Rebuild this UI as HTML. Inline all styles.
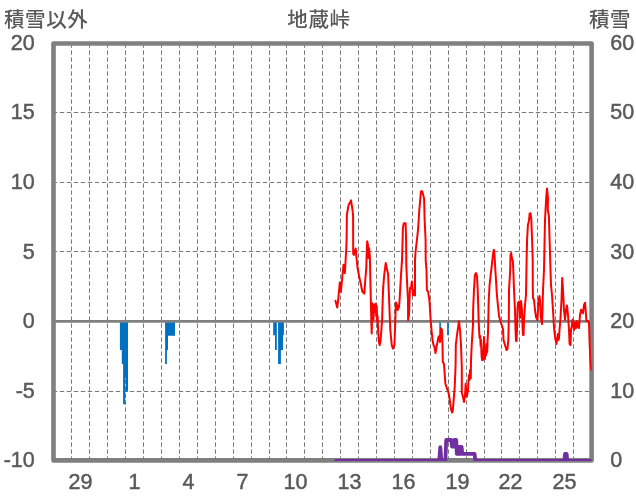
<!DOCTYPE html>
<html><head><meta charset="utf-8"><title>地蔵峠</title>
<style>html,body{margin:0;padding:0;background:#fff;}svg{display:block;}</style>
</head><body>
<svg width="636" height="501" viewBox="0 0 636 501">
<defs><clipPath id="pc"><rect x="53.50" y="43.45" width="538.10" height="417.45"/></clipPath></defs>
<rect width="636" height="501" fill="#fff"/>
<path d="M71.50 43.4V460.4M89.50 43.4V460.4M107.50 43.4V460.4M125.50 43.4V460.4M143.50 43.4V460.4M161.50 43.4V460.4M179.50 43.4V460.4M197.50 43.4V460.4M215.50 43.4V460.4M233.50 43.4V460.4M251.50 43.4V460.4M269.50 43.4V460.4M286.50 43.4V460.4M304.50 43.4V460.4M322.50 43.4V460.4M340.50 43.4V460.4M358.50 43.4V460.4M376.50 43.4V460.4M394.50 43.4V460.4M412.50 43.4V460.4M430.50 43.4V460.4M448.50 43.4V460.4M466.50 43.4V460.4M484.50 43.4V460.4M501.50 43.4V460.4M519.50 43.4V460.4M537.50 43.4V460.4M555.50 43.4V460.4M573.50 43.4V460.4" stroke="#787878" stroke-width="1" stroke-dasharray="4.4 2.6" fill="none"/>
<path d="M52.8 112.50H591.6M52.8 182.50H591.6M52.8 251.50H591.6M52.8 391.50H591.6" stroke="#787878" stroke-width="1" stroke-dasharray="4.4 2.6" fill="none"/>
<path fill="#0070C0" d="M119.90 321.40L119.90 349.96L121.80 349.96L121.80 363.89L123.10 363.89L123.10 404.28L125.20 404.28L125.20 378.10L125.80 378.10L125.80 391.75L128.00 391.75L128.00 321.40ZM165.10 321.40L165.10 363.89L166.90 363.89L166.90 349.96L168.00 349.96L168.00 335.75L175.00 335.75L175.00 321.40ZM273.20 321.40L273.20 335.33L275.00 335.33L275.00 349.96L276.80 349.96L276.80 321.40ZM278.10 321.40L278.10 363.89L280.90 363.89L280.90 349.96L283.00 349.96L283.00 335.33L283.90 335.33L283.90 321.40ZM439.30 321.40L439.30 335.33L440.90 335.33L440.90 321.40ZM447.10 321.40L447.10 335.33L448.80 335.33L448.80 321.40Z"/>
<path d="M53.5 321.40H591.6" stroke="#808080" stroke-width="2.75"/>
<rect x="53.50" y="43.45" width="538.10" height="416.95" fill="none" stroke="#808080" stroke-width="4.6" stroke-linejoin="round"/>
<g clip-path="url(#pc)" fill="none" stroke-linejoin="round" stroke-linecap="round">
<polyline points="335.5,300.8 337.2,307.6 338.2,300.0 339.8,282.5 340.9,292.0 342.5,275.0 343.5,264.8 344.9,273.0 345.5,262.0 346.2,250.0 346.6,240.0 346.9,214.5 348.6,205.0 351.0,200.4 352.5,209.8 353.1,215.7 353.2,254.0 353.9,255.0 355.7,248.4 356.5,258.0 357.5,267.5 359.3,277.1 360.9,284.3 362.3,291.5 364.3,293.6 365.3,279.5 366.3,268.0 366.8,250.0 367.2,241.2 368.0,245.0 368.5,258.0 369.0,248.0 369.8,255.0 370.6,290.0 371.3,320.0 371.7,333.5 372.4,303.2 373.4,320.0 374.3,304.5 375.0,312.0 375.6,303.8 376.2,316.0 376.7,306.0 377.2,322.0 377.6,316.0 378.2,332.0 378.8,341.0 379.7,345.2 380.6,340.0 381.5,328.0 382.1,320.0 382.7,300.0 383.2,287.0 384.2,275.0 385.7,263.0 386.7,268.0 388.1,274.1 389.1,300.0 390.3,330.0 391.8,345.3 393.0,348.7 394.4,345.0 395.0,330.0 395.5,315.0 395.9,302.5 397.0,305.0 397.8,310.0 399.0,307.0 399.6,300.0 401.0,275.0 402.0,260.4 402.6,240.0 402.9,227.9 403.8,223.2 405.6,223.2 406.1,240.0 406.3,265.1 407.2,285.0 408.0,300.0 408.1,320.0 409.0,315.0 409.5,300.0 410.0,288.0 411.0,288.0 411.9,281.5 413.0,295.5 414.0,290.0 415.0,295.5 415.0,260.4 415.5,252.0 416.9,240.0 418.1,229.1 419.3,210.0 420.2,200.4 420.9,191.6 421.6,191.0 422.3,191.6 424.1,198.6 424.6,219.5 425.6,240.0 425.7,260.4 426.5,270.0 426.9,290.3 428.1,291.5 429.5,301.0 430.5,318.0 431.5,330.0 432.5,340.0 433.5,345.0 434.5,347.0 435.5,353.0 436.5,347.0 437.5,342.0 438.5,337.0 439.2,336.0 440.0,342.0 441.0,328.3 442.0,330.0 442.5,345.0 442.8,362.0 444.0,364.0 444.8,376.0 445.4,383.7 446.5,387.0 447.6,390.2 448.7,393.5 449.8,400.1 450.9,408.9 452.0,412.5 452.7,411.5 453.6,401.2 454.7,387.0 455.6,365.0 455.8,345.0 457.0,335.0 459.0,321.2 460.0,330.0 461.0,345.0 461.8,367.0 461.8,392.4 463.0,397.0 464.0,402.0 465.0,395.0 465.7,383.7 466.5,395.0 466.8,396.8 468.0,390.0 468.4,382.6 469.0,375.0 469.5,380.0 470.0,370.0 470.8,378.2 471.0,360.0 472.0,340.0 473.0,325.0 473.1,310.0 474.0,289.9 474.9,274.9 476.0,273.0 477.0,276.0 477.7,289.9 478.3,309.4 478.7,322.0 479.3,334.0 479.6,338.0 480.2,336.0 480.6,346.0 481.0,340.0 481.5,355.0 482.0,360.0 482.6,352.0 483.0,360.0 483.5,348.0 484.0,337.0 484.6,350.0 485.0,359.0 485.6,348.0 486.2,355.0 486.6,344.0 487.2,352.0 487.6,340.0 488.0,333.0 488.3,320.0 488.7,300.3 489.6,284.7 491.3,269.7 492.6,258.0 493.5,251.0 494.0,249.8 494.6,256.0 495.2,268.0 496.0,280.0 496.8,293.8 498.0,306.0 499.0,316.0 500.5,321.5 502.0,326.0 503.0,329.0 503.5,340.0 505.0,345.0 506.5,350.0 507.5,349.0 508.3,340.0 508.8,320.0 509.0,290.0 510.2,270.4 510.5,255.0 511.1,253.0 512.0,258.4 512.9,261.4 513.5,275.0 514.0,289.5 515.0,310.0 515.5,330.0 516.0,341.0 516.6,341.0 517.0,330.0 517.5,310.0 518.0,303.0 519.0,301.5 519.5,305.0 520.0,318.0 520.5,310.0 521.0,301.0 522.0,310.0 522.5,325.0 523.0,335.0 523.6,335.0 524.0,320.0 525.0,305.0 526.0,295.0 526.6,260.0 527.1,239.5 527.9,225.1 528.9,221.0 529.7,213.4 530.5,213.2 531.3,219.2 531.7,230.0 532.3,245.5 532.7,260.0 532.8,290.0 533.0,298.0 534.0,300.0 535.0,310.0 536.0,317.0 537.5,320.0 538.5,300.0 539.5,296.0 540.0,300.0 541.0,318.0 542.0,324.0 542.5,310.0 543.0,290.0 544.0,270.0 544.6,240.0 545.0,220.0 546.2,198.0 547.0,188.4 548.0,198.0 547.8,210.0 548.9,216.0 549.6,240.0 550.5,270.0 551.0,285.0 552.0,295.0 553.0,310.0 554.0,328.0 555.2,338.0 556.4,344.0 557.0,340.0 557.9,334.0 558.5,340.0 559.0,338.0 559.5,330.0 560.5,318.0 561.5,300.0 562.2,278.0 563.0,290.0 564.0,310.0 565.0,320.0 566.0,310.0 567.0,305.5 568.0,315.0 569.0,330.0 569.6,344.0 570.5,345.0 571.0,330.0 571.6,327.0 572.7,319.5 573.5,326.0 574.2,330.0 575.1,322.3 576.0,328.0 577.0,321.0 578.0,327.0 579.0,328.0 580.0,315.0 581.1,309.7 582.0,312.0 583.0,313.2 584.0,305.0 585.1,302.7 586.0,315.0 586.4,320.9 588.1,320.9 589.0,323.0 589.5,340.0 590.3,359.5 591.2,369.8" stroke="#FF0000" stroke-width="2.0"/>
<polyline points="336.0,460.9 439.2,460.9 440.3,447.2 441.4,460.9 445.4,460.9 446.2,440.0 451.2,440.0 452.0,446.6 453.5,446.6 454.3,440.0 456.2,440.0 456.8,453.9 457.5,447.0 458.3,453.9 459.0,447.0 459.8,453.9 460.5,447.0 461.2,453.9 461.6,447.0 462.3,453.9 474.6,453.9 475.4,460.9 564.3,460.9 565.0,454.0 566.6,454.0 567.3,460.9 594.6,460.9" stroke="#7030A0" stroke-width="3.8"/>
</g>
<g fill="#595959" style="font-family:'Liberation Sans','Noto Sans CJK JP',sans-serif">
<text x="4.0" y="27" font-size="20.5" font-weight="500" letter-spacing="0.6">積雪以外</text>
<text x="287.35" y="27" font-size="20.5" font-weight="500" letter-spacing="0.6">地蔵峠</text>
<text x="588.90" y="27" font-size="20.5" font-weight="500" letter-spacing="0.6">積雪</text>
<g stroke="#595959" stroke-width="0.5">
<text transform="translate(34.8 50.1) scale(0.94 1)" font-size="22.9" text-anchor="end">20</text>
<text transform="translate(34.8 118.8) scale(0.94 1)" font-size="22.9" text-anchor="end">15</text>
<text transform="translate(34.8 188.5) scale(0.94 1)" font-size="22.9" text-anchor="end">10</text>
<text transform="translate(34.8 258.6) scale(0.94 1)" font-size="22.9" text-anchor="end">5</text>
<text transform="translate(34.8 328.4) scale(0.94 1)" font-size="22.9" text-anchor="end">0</text>
<text transform="translate(34.8 398.3) scale(0.94 1)" font-size="22.9" text-anchor="end">-5</text>
<text transform="translate(34.8 467.1) scale(0.94 1)" font-size="22.9" text-anchor="end">-10</text>
<text transform="translate(610.2 50.1) scale(0.94 1)" font-size="22.9">60</text>
<text transform="translate(610.2 118.8) scale(0.94 1)" font-size="22.9">50</text>
<text transform="translate(610.2 188.5) scale(0.94 1)" font-size="22.9">40</text>
<text transform="translate(610.2 258.6) scale(0.94 1)" font-size="22.9">30</text>
<text transform="translate(610.2 328.4) scale(0.94 1)" font-size="22.9">20</text>
<text transform="translate(610.2 398.3) scale(0.94 1)" font-size="22.9">10</text>
<text transform="translate(610.2 467.1) scale(0.94 1)" font-size="22.9">0</text>
<text transform="translate(80.5 489) scale(0.94 1)" font-size="22.9" text-anchor="middle">29</text>
<text transform="translate(134.5 489) scale(0.94 1)" font-size="22.9" text-anchor="middle">1</text>
<text transform="translate(188.5 489) scale(0.94 1)" font-size="22.9" text-anchor="middle">4</text>
<text transform="translate(242.5 489) scale(0.94 1)" font-size="22.9" text-anchor="middle">7</text>
<text transform="translate(295.5 489) scale(0.94 1)" font-size="22.9" text-anchor="middle">10</text>
<text transform="translate(349.5 489) scale(0.94 1)" font-size="22.9" text-anchor="middle">13</text>
<text transform="translate(403.5 489) scale(0.94 1)" font-size="22.9" text-anchor="middle">16</text>
<text transform="translate(457.5 489) scale(0.94 1)" font-size="22.9" text-anchor="middle">19</text>
<text transform="translate(510.5 489) scale(0.94 1)" font-size="22.9" text-anchor="middle">22</text>
<text transform="translate(564.5 489) scale(0.94 1)" font-size="22.9" text-anchor="middle">25</text>
</g>
</g>
</svg>
</body></html>
